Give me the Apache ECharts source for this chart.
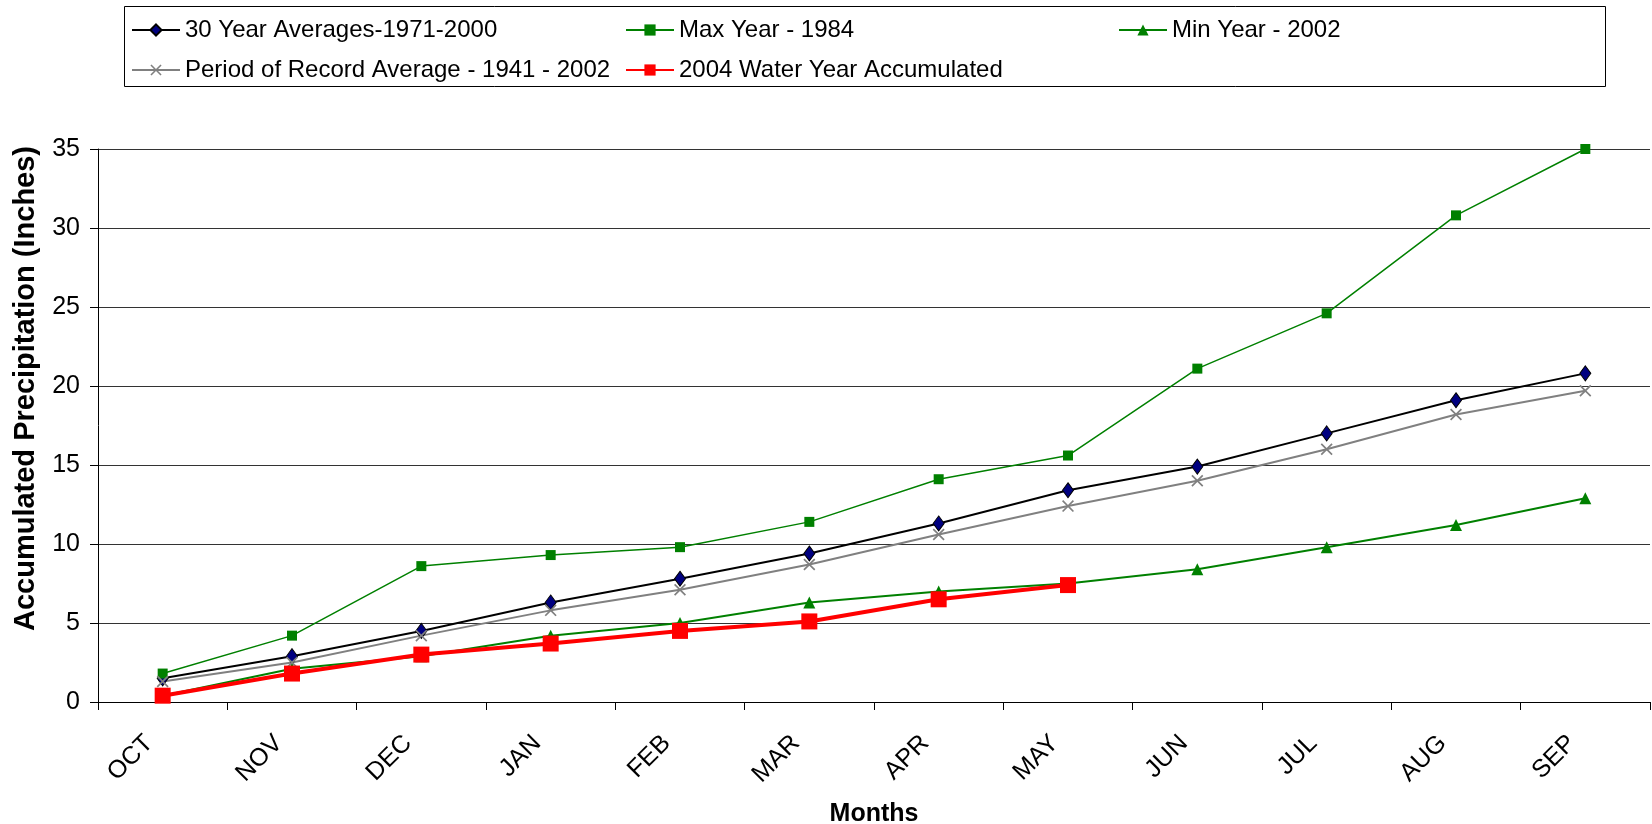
<!DOCTYPE html>
<html>
<head>
<meta charset="utf-8">
<script src="https://cdn.jsdelivr.net/npm/echarts@6/dist/echarts.min.js"></script>
<style>
html,body{margin:0;padding:0;background:#fff;}
#chart{width:1652px;height:824px;}
</style>
</head>
<body>
<div id="chart"></div>
<script>
var months = ['OCT','NOV','DEC','JAN','FEB','MAR','APR','MAY','JUN','JUL','AUG','SEP'];
var avg30 = [1.5, 2.9, 4.5, 6.3, 7.8, 9.4, 11.3, 13.4, 14.9, 17.0, 19.1, 20.8];
var maxYear = [1.8, 4.2, 8.6, 9.3, 9.8, 11.4, 14.1, 15.6, 21.1, 24.6, 30.8, 35.0];
var minYear = [0.4, 2.1, 2.9, 4.2, 5.0, 6.3, 7.0, 7.5, 8.4, 9.8, 11.2, 12.9];
var porAvg = [1.3, 2.5, 4.2, 5.8, 7.1, 8.7, 10.6, 12.4, 14.0, 16.0, 18.2, 19.7];
var wy2004 = [0.4, 1.8, 3.0, 3.7, 4.5, 5.1, 6.5, 7.4];
var yTicks = [0, 5, 10, 15, 20, 25, 30, 35];

var names = ['30 Year Averages-1971-2000', 'Max Year - 1984', 'Min Year - 2002',
             'Period of Record Average - 1941 - 2002', '2004 Water Year Accumulated'];

var FONT = 'Liberation Sans, Arial, sans-serif';
var xPath = 'path://M0,1L1,0L5,4L9,0L10,1L6,5L10,9L9,10L5,6L1,10L0,9L4,5Z';

function leg(name, left, top) {
  return {
    data: [name], left: left, top: top, orient: 'horizontal',
    itemWidth: 48, itemHeight: 14, itemGap: 0, padding: 0,
    textStyle: {fontFamily: FONT, fontSize: 24, color: '#000'},
    selectedMode: false
  };
}

var chart = echarts.init(document.getElementById('chart'), null, {renderer: 'canvas'});
chart.setOption({
  animation: false,
  backgroundColor: '#fff',
  graphic: [{
    type: 'rect', shape: {x: 124.5, y: 6.5, width: 1481, height: 80},
    style: {fill: 'none', stroke: '#000', lineWidth: 1}, z: -1
  }],
  legend: [
    leg(names[0], 131, 18),
    leg(names[1], 625, 18),
    leg(names[2], 1118, 18),
    leg(names[3], 131, 58),
    leg(names[4], 625, 58)
  ],
  grid: {left: 98, top: 149, right: 2, bottom: 122, containLabel: false, outerBoundsMode: 'none'},
  xAxis: {
    type: 'category', data: months, boundaryGap: true,
    axisLine: {lineStyle: {color: '#000', width: 1}},
    axisTick: {show: true, inside: false, length: 8, alignWithLabel: false, lineStyle: {color: '#000'}},
    axisLabel: {rotate: 45, margin: 24, padding: [0, 19, 0, 0], fontFamily: FONT, fontSize: 25, color: '#000', interval: 0},
    name: 'Months', nameLocation: 'middle', nameGap: 100,
    nameTextStyle: {fontFamily: FONT, fontSize: 25, fontWeight: 'bold', color: '#000'}
  },
  yAxis: {
    type: 'value', min: yTicks[0], max: yTicks[yTicks.length - 1], interval: 5,
    axisLine: {show: true, lineStyle: {color: '#000', width: 1}},
    axisTick: {show: true, inside: false, length: 8, lineStyle: {color: '#000'}},
    axisLabel: {margin: 18, fontFamily: FONT, fontSize: 25, color: '#000'},
    splitLine: {show: true, lineStyle: {color: '#333', width: 1}},
    name: 'Accumulated Precipitation (Inches)', nameLocation: 'middle', nameGap: 58, nameRotate: 90,
    nameTextStyle: {fontFamily: FONT, fontSize: 29, fontWeight: 'bold', color: '#000', padding: [0, 0, 0, 74]}
  },
  series: [
    {
      name: names[0], type: 'line', data: avg30,
      symbol: 'diamond', symbolSize: [11, 15],
      lineStyle: {color: '#000', width: 2},
      itemStyle: {color: '#000080', borderColor: '#000', borderWidth: 1}
    },
    {
      name: names[1], type: 'line', data: maxYear,
      symbol: 'rect', symbolSize: 10,
      lineStyle: {color: '#008000', width: 1.5},
      itemStyle: {color: '#008000', borderColor: '#008000', borderWidth: 0}
    },
    {
      name: names[2], type: 'line', data: minYear,
      symbol: 'triangle', symbolSize: [12, 12],
      lineStyle: {color: '#008000', width: 2},
      itemStyle: {color: '#008000', borderWidth: 0}
    },
    {
      name: names[3], type: 'line', data: porAvg,
      symbol: xPath, symbolSize: 12,
      lineStyle: {color: '#808080', width: 2},
      itemStyle: {color: '#808080', borderWidth: 0}
    },
    {
      name: names[4], type: 'line', data: wy2004,
      symbol: 'rect', symbolSize: 16,
      lineStyle: {color: '#ff0000', width: 4},
      itemStyle: {color: '#ff0000', borderWidth: 0}
    }
  ]
});
</script>
</body>
</html>
